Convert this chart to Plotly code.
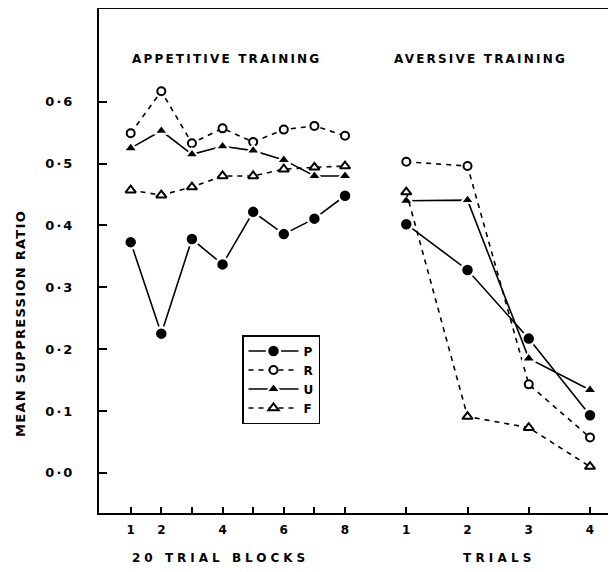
import plotly.graph_objects as go

# ---- data ----
blocks = [1, 2, 3, 4, 5, 6, 7, 8]          # 20-trial blocks (appetitive)
trials = [1, 2, 3, 4]                      # trials (aversive)

app_P = [0.373, 0.225, 0.378, 0.337, 0.422, 0.386, 0.411, 0.448]
app_R = [0.549, 0.617, 0.533, 0.557, 0.535, 0.555, 0.561, 0.545]
app_U = [0.525, 0.553, 0.515, 0.528, 0.521, 0.506, 0.480, 0.480]
app_F = [0.457, 0.449, 0.462, 0.480, 0.480, 0.491, 0.494, 0.496]

av_P = [0.402, 0.328, 0.217, 0.093]
av_R = [0.503, 0.496, 0.143, 0.057]
av_U = [0.440, 0.441, 0.185, 0.134]
av_F = [0.454, 0.091, 0.073, 0.010]

block_ticktext = ["1", "2", "", "4", "", "6", "", "8"]
trial_ticktext = ["1", "2", "3", "4"]
y_tickvals = [0.0, 0.1, 0.2, 0.3, 0.4, 0.5, 0.6]
y_ticktext = ["0·0", "0·1", "0·2", "0·3", "0·4", "0·5", "0·6"]

# aversive trials share the x axis after a gap, two block-units per trial
trial_pos = [8 + 2 * t for t in trials]

FONT = "DejaVu Sans"

# The page body has an 8px margin; the figure is sized so the page fits the
# 616x572 window. Reference pixel (rx, ry) -> figure pixel (rx-8, ry-8).
W, H = 600, 556
L, T, B = 91, 1, 51           # plot area: ref x 99..608, ref y 9..513
PW, PH = W - L, H - T - B


def px(rx):
    return (rx - 99) / PW


def py(ry):
    return (513 - ry) / PH


def spaced(s, ls):
    return f'<span style="letter-spacing:{ls}px">{s}</span>'


series = [
    ("P", app_P, av_P, dict(symbol="circle", size=13, color="black",
                            line=dict(color="white", width=2.5)), "solid"),
    ("R", app_R, av_R, dict(symbol="circle", size=8, color="white",
                            line=dict(color="black", width=2)), "5px,5px"),
    ("U", app_U, av_U, dict(symbol="triangle-up", size=12, color="black",
                            line=dict(color="white", width=2)), "solid"),
    ("F", app_F, av_F, dict(symbol="triangle-up", size=9, color="white",
                            line=dict(color="black", width=2)), "5px,5px"),
]

fig = go.Figure()
for name, app, av, marker, dash in series:
    fig.add_trace(go.Scatter(
        x=blocks + [None] + trial_pos,
        y=app + [None] + av,
        mode="lines+markers",
        name=name,
        connectgaps=False,
        line=dict(color="black", width=1.6, dash=dash),
        marker=marker,
    ))

fig.update_layout(
    width=W, height=H,
    margin=dict(l=L, r=0, t=T, b=B, pad=0),
    paper_bgcolor="white", plot_bgcolor="white",
    font=dict(family=FONT, color="black", size=12),
    showlegend=True,
    legend=dict(
        x=px(242), y=py(335), xanchor="left", yanchor="top",
        bordercolor="black", borderwidth=1.5, bgcolor="white",
        font=dict(family=FONT, size=12, color="black", weight="bold"),
        itemwidth=50, tracegroupgap=0,
    ),
    xaxis=dict(
        range=[-0.035, 16.588], showgrid=False, zeroline=False,
        showline=True, linecolor="black", linewidth=2, mirror=True,
        ticks="inside", ticklen=6, tickwidth=2, tickcolor="black",
        tickvals=blocks + trial_pos,
        ticktext=block_ticktext + trial_ticktext,
        tickfont=dict(family=FONT, size=12, color="black", weight="bold"),
        ticklabelstandoff=5,
    ),
    yaxis=dict(
        range=[-0.065, 0.75], showgrid=False, zeroline=False,
        showline=True, linecolor="black", linewidth=2, mirror=False,
        ticks="inside", ticklen=8, tickwidth=1.5, tickcolor="black",
        tickvals=y_tickvals, ticktext=[spaced(t, 2) for t in y_ticktext],
        tickfont=dict(family=FONT, size=13, color="black", weight="bold"),
        ticklabelstandoff=20,
    ),
)

ann_font = dict(family=FONT, size=12, color="black", weight="bold")
fig.add_annotation(text=spaced("APPETITIVE TRAINING", 2.2), xref="paper", yref="paper",
                   x=px(226), y=py(59), showarrow=False,
                   xanchor="center", yanchor="middle", font=ann_font)
fig.add_annotation(text=spaced("AVERSIVE TRAINING", 2.2), xref="paper", yref="paper",
                   x=px(480), y=py(59), showarrow=False,
                   xanchor="center", yanchor="middle", font=ann_font)
fig.add_annotation(text=spaced("20 TRIAL BLOCKS", 4), xref="paper", yref="paper",
                   x=px(220), y=py(558), showarrow=False,
                   xanchor="center", yanchor="middle", font=ann_font)
fig.add_annotation(text=spaced("TRIALS", 4.2), xref="paper", yref="paper",
                   x=px(499), y=py(558), showarrow=False,
                   xanchor="center", yanchor="middle", font=ann_font)
fig.add_annotation(text=spaced("MEAN SUPPRESSION RATIO", 1.3), xref="paper", yref="paper",
                   x=px(20), y=py(324), showarrow=False,
                   textangle=-90, xanchor="center", yanchor="middle",
                   font=dict(family=FONT, size=13, color="black", weight="bold"))

fig.write_html("out.html")
